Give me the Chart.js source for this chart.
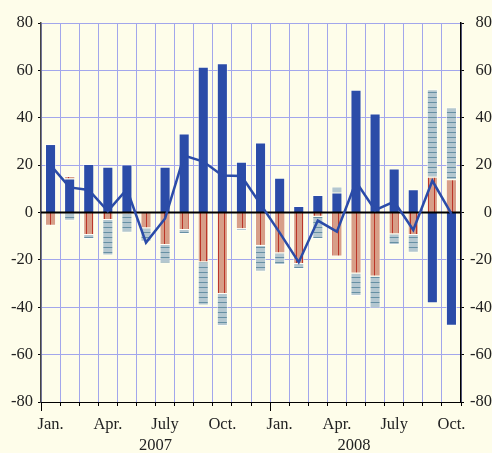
<!DOCTYPE html>
<html>
<head>
<meta charset="utf-8">
<script src="https://cdn.jsdelivr.net/npm/chart.js@4/dist/chart.umd.min.js"></script>
<style>
  html, body { margin: 0; padding: 0; background: #fefdea; }
  #wrap { width: 492px; height: 453px; }
</style>
</head>
<body>
<div id="wrap"><canvas id="chart" width="492" height="453"></canvas></div>
<script>
// month tick labels, Jan 2007 .. Oct 2008
const monthLabels = ['Jan.', '', '', 'Apr.', '', '', 'July', '', '', 'Oct.', '', '',
                     'Jan.', '', '', 'Apr.', '', '', 'July', '', '', 'Oct.'];
const yearLabels = ['2007', '2008'];
const yearPos = [5.5, 15.9];

const blueVals = [28.9, 14.4, 20.5, 19.3, 20.3, 0, 19.3, 33.4, 61.5, 63.0, 21.4,
                  29.6, 14.7, 2.7, 7.4, 8.4, 51.8, 41.8, 18.6, 9.8, -38.3, -47.8];
const redVals = [-5.6, 1.0, -9.5, -3.2, -0.5, -6.7, -13.7, -7.4, -21.0, -34.4, -7.0,
                 -14.1, -17.2, -21.7, -1.8, -18.6, -25.7, -27.0, -9.2, -9.5, 15.1, 14.0];
const grayVals = [0, -3.5, -1.7, -15.0, -8.0, -5.6, -7.8, -1.7, -18.3, -13.5, -0.7,
                  -10.9, -5.0, -2.1, -9.4, 2.5, -9.5, -13.4, -4.5, -7.5, 36.9, 30.4];
const lineVals = [20.0, 10.6, 9.5, 0.6, 9.8, -12.7, -2.5, 24.0, 21.5, 15.6, 15.4,
                  3.5, -8.5, -21.0, -3.4, -8.1, 13.0, 1.0, 4.6, -7.4, 13.4, -0.6];

const BLUE = '#2b4ca8';
const GRID = '#a2a6ec';
const FONT = { family: "'Liberation Serif', 'DejaVu Serif', serif", size: 16.5 };

function stripes(fill, stroke, vertical) {
    const c = document.createElement('canvas');
    c.width = vertical ? 6 : 1;
    c.height = vertical ? 1 : 5;
    const g = c.getContext('2d');
    g.fillStyle = fill;
    g.fillRect(0, 0, c.width, c.height);
    g.fillStyle = stroke;
    if (vertical) g.fillRect(2, 0, 1, 1);
    else g.fillRect(0, 2, 1, 1);
    return g.createPattern(c, 'repeat');
}

const redFill = stripes('#d79e88', '#bb3528', true);
const grayFill = stripes('#b4c7d0', '#6690a4', false);

const decorations = {
    id: 'decorations',
    beforeDraw(chart) {
        const ctx = chart.ctx;
        ctx.save();
        ctx.fillStyle = '#fefdea';
        ctx.fillRect(0, 0, chart.width, chart.height);
        ctx.restore();
    },
    afterDatasetDraw(chart, args) {
        if (args.index !== 1) return;
        // zero line above the bars, under the line series
        const ctx = chart.ctx;
        const y = chart.scales.y.getPixelForValue(0);
        const a = chart.chartArea;
        ctx.save();
        ctx.strokeStyle = '#000';
        ctx.lineWidth = 2;
        ctx.beginPath();
        ctx.moveTo(a.left, y);
        ctx.lineTo(a.right, y);
        ctx.stroke();
        ctx.restore();
    },
    afterDraw(chart) {
        const ctx = chart.ctx;
        const x = chart.scales.x;
        const a = chart.chartArea;
        ctx.save();
        // longer ticks at the start of each year
        ctx.strokeStyle = '#000';
        ctx.lineWidth = 1;
        [0, 12].forEach(i => {
            const px = Math.round(i === 0 ? a.left : (x.getPixelForValue(i - 1) + x.getPixelForValue(i)) / 2) + 0.5;
            ctx.beginPath();
            ctx.moveTo(px, a.bottom);
            ctx.lineTo(px, a.bottom + 9);
            ctx.stroke();
        });
        ctx.fillStyle = '#222';
        ctx.font = `${FONT.size}px ${FONT.family}`;
        ctx.textAlign = 'center';
        ctx.textBaseline = 'alphabetic';
        yearLabels.forEach((t, i) => {
            ctx.fillText(t, x.getPixelForValue(yearPos[i]), 450);
        });
        ctx.restore();
    }
};

const ctx = document.getElementById('chart').getContext('2d');
new Chart(ctx, {
    data: {
        labels: monthLabels,
        datasets: [
            {
                type: 'line',
                data: lineVals,
                stack: 'line',
                borderColor: BLUE,
                borderWidth: 2.5,
                pointRadius: 0,
                tension: 0,
                fill: false
            },
            {
                type: 'bar',
                data: blueVals,
                stack: 'bars',
                backgroundColor: BLUE,
                borderColor: 'rgba(255,255,255,0.6)',
                borderWidth: 1
            },
            {
                type: 'bar',
                data: redVals,
                stack: 'bars',
                backgroundColor: redFill,
                borderColor: 'rgba(255,255,255,0.6)',
                borderWidth: 1
            },
            {
                type: 'bar',
                data: grayVals,
                stack: 'bars',
                backgroundColor: grayFill,
                borderColor: 'rgba(255,255,255,0.6)',
                borderWidth: 1
            }
        ]
    },
    options: {
        responsive: false,
        animation: false,
        layout: { padding: { top: 23, left: 0, right: 0, bottom: 0 } },
        datasets: {
            bar: { categoryPercentage: 1, barPercentage: 0.58 }
        },
        plugins: {
            legend: { display: false },
            tooltip: { enabled: false }
        },
        scales: {
            x: {
                stacked: true,
                offset: true,
                grid: { offset: true, color: GRID, tickColor: '#000', tickLength: 4 },
                border: { color: '#000', width: 1 },
                ticks: {
                    autoSkip: false,
                    maxRotation: 0,
                    padding: 9,
                    color: '#222',
                    font: FONT
                },
                afterFit(scale) { scale.height = 51; }
            },
            y: {
                stacked: true,
                min: -80,
                max: 80,
                position: 'left',
                grid: { color: GRID, tickColor: '#000', tickLength: 3 },
                border: { color: '#444', width: 1.5 },
                ticks: { stepSize: 20, padding: 5, color: '#222', font: FONT },
                afterFit(scale) { scale.width = 41; }
            },
            y2: {
                min: -80,
                max: 80,
                position: 'right',
                grid: { drawOnChartArea: false, tickColor: '#000', tickLength: 3 },
                border: { color: '#000', width: 1.5 },
                ticks: { stepSize: 20, padding: 3, color: '#222', font: FONT, crossAlign: 'far' },
                afterFit(scale) { scale.width = 31; }
            }
        }
    },
    plugins: [decorations]
});
</script>
</body>
</html>
